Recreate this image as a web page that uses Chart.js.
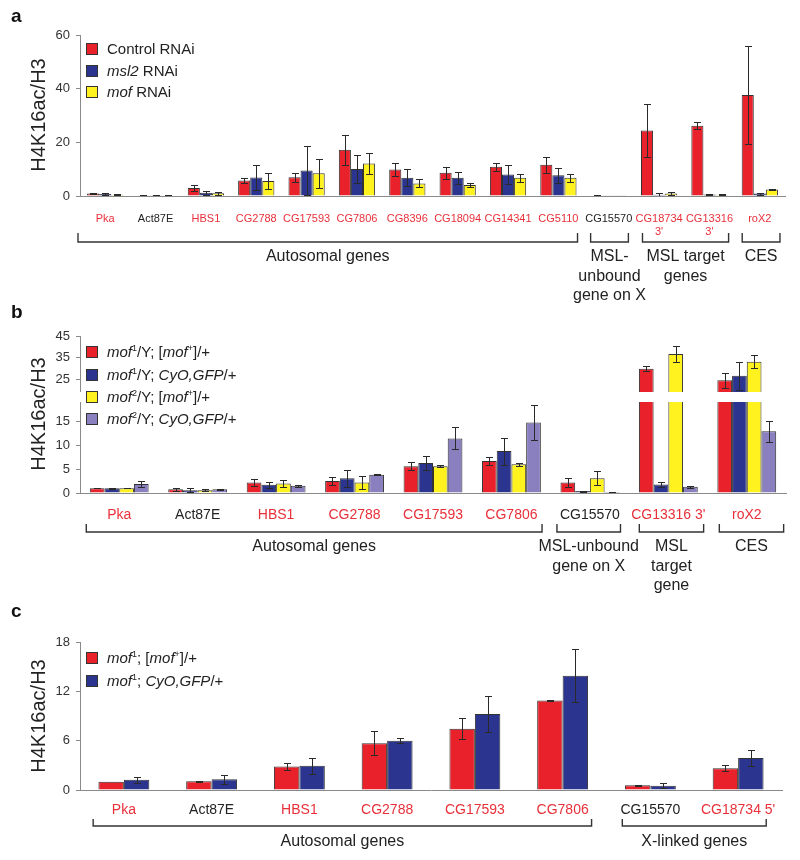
<!DOCTYPE html>
<html>
<head>
<meta charset="utf-8">
<script src="https://cdn.jsdelivr.net/npm/chart.js@4.4.0/dist/chart.umd.min.js"></script>
<style>
  body { margin:0; background:#fff; font-family:"Liberation Sans", Arial, sans-serif; }
  #wrap { position:relative; width:800px; height:860px; overflow:hidden; }
  canvas { position:absolute; left:0; }
  .letter { position:absolute; left:11px; font-weight:bold; font-size:19px; line-height:19px; color:#111; }
  .ytitle { position:absolute; width:200px; height:24px; line-height:24px; text-align:center;
            font-size:20px; color:#222; transform:rotate(-90deg); white-space:nowrap; }
  .legend { position:absolute; left:86px; font-size:15px; color:#222; }
  .legend .row { position:absolute; left:0; white-space:nowrap; height:20px; line-height:20px; }
  .legend .sw { position:absolute; left:0; top:4px; width:10px; height:10px; border:1px solid #333; }
  .legend .tx { position:absolute; left:21px; top:0; }
  .legend sup { font-size:9px; line-height:0; vertical-align:6px; }
</style>
</head>
<body>
<div id="wrap">
  <canvas id="chartA" width="800" height="310" style="top:0"></canvas>
  <canvas id="chartBhi" width="800" height="92" style="top:300px"></canvas>
  <canvas id="chartBlo" width="800" height="208" style="top:392px"></canvas>
  <canvas id="chartC" width="800" height="260" style="top:600px"></canvas>
</div>
<script>
// ---- panel a data
const catsA = ['Pka','Act87E','HBS1','CG2788','CG17593','CG7806','CG8396','CG18094','CG14341','CG5110','CG15570',['CG18734',"3'"],['CG13316',"3'"],'roX2'];
const redLabelA = [1,0,1,1,1,1,1,1,1,1,0,1,1,1];
const namesA = ['Control RNAi','<i>msl2</i> RNAi','<i>mof</i> RNAi'];
const controlA    = [0.9,0.3,3.0,5.8,7.0,17.2,9.9,8.7,10.9,11.6,0.2,24.4,26.2,37.6];
const controlErrA = [0.2,0.1,1.0,1.0,1.7,5.7,2.5,2.2,1.5,3.0,0.1,10.0,1.4,18.4];
const msl2A       = [0.7,0.3,1.2,6.9,9.5,10.1,6.8,6.8,8.0,7.7,0.1,0.5,0.6,0.9];
const msl2ErrA    = [0.3,0.1,0.8,4.5,9.0,5.3,3.1,2.3,3.7,2.9,0.05,0.5,0.3,0.4];
const mofA        = [0.5,0.3,1.0,5.6,8.5,12.1,4.7,4.1,6.8,6.8,0.1,0.9,0.5,2.4];
const mofErrA     = [0.2,0.1,0.5,3.0,5.4,4.0,1.5,0.9,1.5,1.4,0.05,0.5,0.3,0.2];
const ticksA = [0,20,40,60];

// ---- panel b data (broken axis)
const catsB = ['Pka','Act87E','HBS1','CG2788','CG17593','CG7806','CG15570',"CG13316 3'",'roX2'];
const redLabelB = [1,0,1,1,1,1,0,1,1];
const namesB = [
  '<i>mof</i><sup>1</sup>/Y; [<i>mof</i><sup>+</sup>]/+',
  '<i>mof</i><sup>1</sup>/Y; <i>CyO,GFP</i>/+',
  '<i>mof</i><sup>2</sup>/Y; [<i>mof</i><sup>+</sup>]/+',
  '<i>mof</i><sup>2</sup>/Y; <i>CyO,GFP</i>/+'];
const mof1RescueB    = [1.0,0.8,2.2,2.5,5.6,6.7,2.2,29.8,24.4];
const mof1RescueErrB = [0.05,0.3,0.8,0.8,0.8,0.8,0.9,1.2,3.4];
const mof1CyoB       = [1.0,0.6,1.7,3.1,6.25,8.75,0.4,1.8,26.5];
const mof1CyoErrB    = [0.1,0.4,0.7,1.8,1.4,2.8,0.1,0.6,6.4];
const mof2RescueB    = [1.0,0.6,2.0,2.2,5.6,6.0,3.1,36.6,33.1];
const mof2RescueErrB = [0.05,0.2,0.8,1.3,0.2,0.3,1.5,3.7,3.0];
const mof2CyoB       = [1.9,0.8,1.5,3.8,11.4,14.7,0.2,1.3,12.9];
const mof2CyoErrB    = [0.7,0.1,0.2,0.1,2.3,3.6,0.05,0.25,2.2];
const ticksBlo = [0,5,10,15];
const ticksBhi = [25,35,45];
const breakB = 19;

// ---- panel c data
const catsC = ['Pka','Act87E','HBS1','CG2788','CG17593','CG7806','CG15570',"CG18734 5'"];
const redLabelC = [1,0,1,1,1,1,0,1];
const namesC = [
  '<i>mof</i><sup>1</sup>; [<i>mof</i><sup>+</sup>]/+',
  '<i>mof</i><sup>1</sup>; <i>CyO,GFP</i>/+'];
const rescueC    = [1.0,1.05,2.85,5.7,7.45,10.9,0.57,2.65];
const rescueErrC = [0,0.05,0.4,1.5,1.3,0.05,0.03,0.37];
const cyoC       = [1.25,1.3,2.95,6.0,9.25,13.9,0.53,3.9];
const cyoErrC    = [0.35,0.55,0.95,0.3,2.15,3.2,0.3,0.95];
const ticksC = [0,6,12,18];

// ---- styles
const RED = '#e8212b', BLUE = '#2b3590', YELLOW = '#fff21f', PURPLE = '#8a7fbf';
const LABEL_RED = '#e8303a', LABEL_BLACK = '#222';
const AXIS = '#8a8a8a';
Chart.defaults.font.family = '"Liberation Sans", Arial, sans-serif';

const errorBars = {
  id: 'errorBars',
  afterDatasetsDraw(chart) {
    const {ctx, chartArea: a} = chart; const y = chart.scales.y;
    ctx.save();
    ctx.beginPath(); ctx.rect(0, a.top, chart.width, a.bottom - a.top); ctx.clip();
    ctx.strokeStyle = '#2a2a2a'; ctx.lineWidth = 1;
    chart.data.datasets.forEach((ds, di) => {
      if (!ds.errors) return;
      chart.getDatasetMeta(di).data.forEach((bar, i) => {
        const v = ds.data[i], e = ds.errors[i];
        if (!e) return;
        const x = Math.round(bar.x) + 0.5;
        const yt = Math.round(y.getPixelForValue(v + e)) + 0.5;
        const yb = Math.round(y.getPixelForValue(Math.max(v - e, 0))) + 0.5;
        ctx.beginPath();
        ctx.moveTo(x, yt); ctx.lineTo(x, yb);
        ctx.moveTo(x - 3.5, yt); ctx.lineTo(x + 3.5, yt);
        ctx.moveTo(x - 3.5, yb); ctx.lineTo(x + 3.5, yb);
        ctx.stroke();
      });
    });
    ctx.restore();
  }
};

const brackets = {
  id: 'brackets',
  afterDraw(chart, args, opts) {
    if (!opts.items) return;
    const xs = chart.scales.x, ctx = chart.ctx, b = chart.chartArea.bottom;
    ctx.save();
    ctx.strokeStyle = '#333'; ctx.lineWidth = 1.4;
    ctx.font = '16px "Liberation Sans", Arial, sans-serif';
    ctx.fillStyle = '#222'; ctx.textAlign = 'center'; ctx.textBaseline = 'middle';
    opts.items.forEach(it => {
      const x1 = xs.getPixelForValue(it.from), x2 = xs.getPixelForValue(it.to);
      ctx.beginPath();
      ctx.moveTo(x1, b + opts.top); ctx.lineTo(x1, b + opts.line);
      ctx.lineTo(x2, b + opts.line); ctx.lineTo(x2, b + opts.top);
      ctx.stroke();
      it.text.forEach((t, i) => ctx.fillText(t, (x1 + x2) / 2, b + opts.text + i * opts.lh));
    });
    ctx.restore();
  }
};

function makeChart(id, cfg) {
  const datasets = cfg.series.map((s, i) => ({
    label: s.name, data: s.values, errors: s.errors,
    backgroundColor: s.color, borderColor: '#333', borderWidth: 1,
    categoryPercentage: cfg.catPct, barPercentage: 1, clip: 0
  }));
  return new Chart(document.getElementById(id), {
    type: 'bar',
    data: { labels: cfg.labels, datasets },
    options: {
      responsive: false, animation: false,
      layout: { padding: { top: cfg.padTop, right: cfg.padRight, left: 0, bottom: 0 } },
      plugins: { legend: { display: false }, tooltip: { enabled: false }, brackets: cfg.brackets || {} },
      scales: {
        x: {
          display: cfg.xHeight > 0,
          grid: { display: false },
          border: { display: true, color: AXIS, width: 1 },
          ticks: {
            autoSkip: false, maxRotation: 0, minRotation: 0, padding: cfg.xPad,
            font: { size: cfg.xFont }, color: c => cfg.red[c.index] ? LABEL_RED : LABEL_BLACK
          },
          afterFit: s => { s.height = cfg.xHeight; }
        },
        y: {
          min: cfg.min, max: cfg.max,
          afterBuildTicks: s => { s.ticks = cfg.ticks.map(v => ({ value: v })); },
          grid: { drawOnChartArea: false, tickLength: 4, color: AXIS },
          border: { color: AXIS, width: 1 },
          ticks: { padding: 6, font: { size: 13 }, color: '#333' },
          afterFit: s => { s.width = 80; s.paddingTop = 0; s.paddingBottom = 0; }
        }
      }
    },
    plugins: [errorBars, brackets]
  });
}

makeChart('chartA', {
  labels: catsA, red: redLabelA, catPct: 0.72, padTop: 35, padRight: 15,
  xHeight: 114, xPad: 8, xFont: 11, min: 0, max: 60, ticks: ticksA,
  series: [
    { name: namesA[0], values: controlA, errors: controlErrA, color: RED },
    { name: namesA[1], values: msl2A, errors: msl2ErrA, color: BLUE },
    { name: namesA[2], values: mofA, errors: mofErrA, color: YELLOW }],
  brackets: { top: 37, line: 46, text: 61, lh: 19.5, items: [
    { from: -0.54, to: 9.38, text: ['Autosomal genes'] },
    { from: 9.64, to: 10.39, text: ['MSL-', 'unbound', 'gene on X'] },
    { from: 10.67, to: 12.38, text: ['MSL target', 'genes'] },
    { from: 12.65, to: 13.40, text: ['CES'] }] }
});

const seriesB = [
  { name: namesB[0], values: mof1RescueB, errors: mof1RescueErrB, color: RED },
  { name: namesB[1], values: mof1CyoB, errors: mof1CyoErrB, color: BLUE },
  { name: namesB[2], values: mof2RescueB, errors: mof2RescueErrB, color: YELLOW },
  { name: namesB[3], values: mof2CyoB, errors: mof2CyoErrB, color: PURPLE }];

makeChart('chartBhi', {
  labels: catsB, red: redLabelB, catPct: 0.75, padTop: 36, padRight: 14,
  xHeight: 0, xPad: 0, xFont: 14, min: breakB, max: 45, ticks: ticksBhi, series: seriesB
});

makeChart('chartBlo', {
  labels: catsB, red: redLabelB, catPct: 0.75, padTop: 10, padRight: 14,
  xHeight: 107, xPad: 6, xFont: 14, min: 0, max: breakB, ticks: ticksBlo, series: seriesB,
  brackets: { top: 31, line: 39, text: 54, lh: 19.5, items: [
    { from: -0.42, to: 5.39, text: ['Autosomal genes'] },
    { from: 5.58, to: 6.39, text: ['MSL-unbound', 'gene on X'] },
    { from: 6.63, to: 7.45, text: ['MSL', 'target', 'gene'] },
    { from: 7.65, to: 8.47, text: ['CES'] }] }
});

makeChart('chartC', {
  labels: catsC, red: redLabelC, catPct: 0.58, padTop: 42, padRight: 18,
  xHeight: 70, xPad: 4, xFont: 14, min: 0, max: 18, ticks: ticksC,
  series: [
    { name: namesC[0], values: rescueC, errors: rescueErrC, color: RED },
    { name: namesC[1], values: cyoC, errors: cyoErrC, color: BLUE }],
  brackets: { top: 29, line: 36, text: 52, lh: 19.5, items: [
    { from: -0.35, to: 5.33, text: ['Autosomal genes'] },
    { from: 5.68, to: 7.32, text: ['X-linked genes'] }] }
});

// ---- html text: panel letters, y titles, legends
const wrap = document.getElementById('wrap');
function addDiv(cls, html, style) {
  const d = document.createElement('div'); d.className = cls; d.innerHTML = html;
  Object.assign(d.style, style); wrap.appendChild(d); return d;
}
addDiv('letter', 'a', { top: '6px' });
addDiv('letter', 'b', { top: '302px' });
addDiv('letter', 'c', { top: '601px' });
[115, 414, 716].forEach(cy => addDiv('ytitle', 'H4K16ac/H3', { left: (38 - 100) + 'px', top: (cy - 12) + 'px' }));

function legend(names, colors, rows) {
  const lg = addDiv('legend', '', {});
  names.forEach((n, i) => {
    const r = document.createElement('div'); r.className = 'row';
    r.style.top = (rows[i] - 10) + 'px';
    r.innerHTML = '<span class="sw" style="background:' + colors[i] + '"></span><span class="tx">' + n + '</span>';
    lg.appendChild(r);
  });
}
legend(namesA, [RED, BLUE, YELLOW], [49, 71, 92]);
legend(namesB, [RED, BLUE, YELLOW, PURPLE], [352, 375, 397, 419]);
legend(namesC, [RED, BLUE], [658, 681]);
</script>
</body>
</html>
